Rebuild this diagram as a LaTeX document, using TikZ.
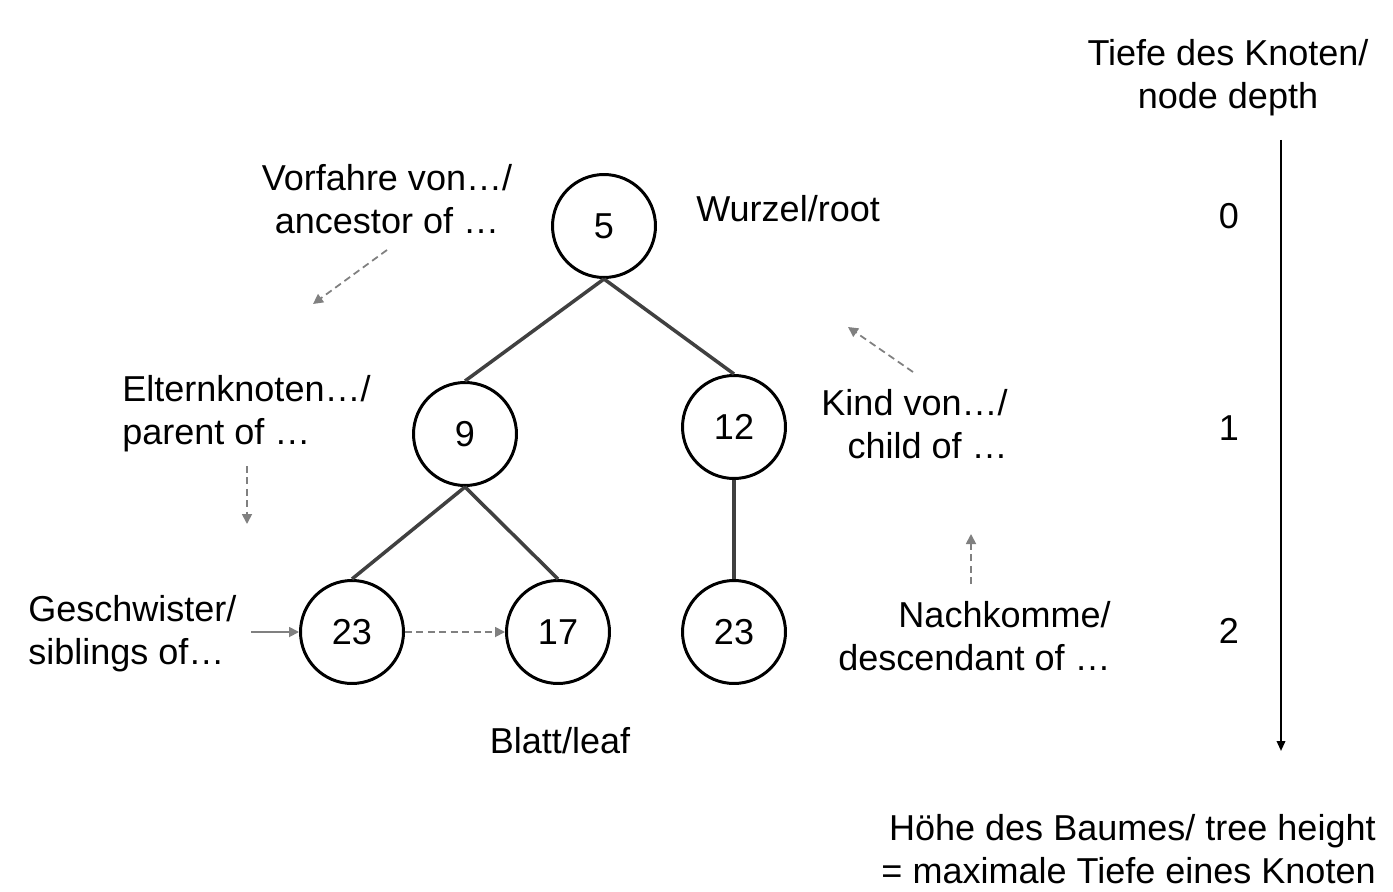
\documentclass[tikz,border=0pt]{standalone}
\usepackage{fontspec}
\setmainfont{Liberation Sans}
\usetikzlibrary{arrows.meta}
\begin{document}
\begin{tikzpicture}[x=0.02cm,y=-0.02cm,
  lbl/.style={inner sep=0pt,font=\fontsize{20.5pt}{24.5pt}\selectfont},
  tnode/.style={circle,draw=black,line width=1.7pt,minimum size=2.06cm,inner sep=0pt,font=\fontsize{20.5pt}{24.5pt}\selectfont},
  edge/.style={draw=black!75,line width=2pt},
  hint/.style={draw=black!50,line width=1pt,dashed,dash pattern=on 4pt off 2.5pt,-{Triangle[length=0.2cm,width=0.2cm]}},
  hintsolid/.style={draw=black!50,line width=1pt,-{Triangle[length=0.2cm,width=0.2cm]}}]
\useasboundingbox (0,0) rectangle (1393,892);
% tree
\node[tnode] (r) at (604,226) {5};
\node[tnode] (n9) at (465,434) {9};
\node[tnode] (n12) at (734,427) {12};
\node[tnode] (a) at (352,632) {23};
\node[tnode] (b) at (558,632) {17};
\node[tnode] (c) at (734,632) {23};
\draw[edge] (r.south) -- (n9.north);
\draw[edge] (r.south) -- (n12.north);
\draw[edge] (n9.south) -- (a.north);
\draw[edge] (n9.south) -- (b.north);
\draw[edge] (n12.south) -- (c.north);
% labels
\node[lbl,align=center] (depth) at (1228,78) {Tiefe des Knoten/\\node depth};
\node[lbl,align=center] (anc) at (387,199) {Vorfahre von…/\\ancestor of …};
\node[lbl,anchor=west] (root) at (696,209) {Wurzel/root};
\node[lbl] (d0) at (1229,216) {0};
\node[lbl] (d1) at (1229,428) {1};
\node[lbl] (d2) at (1229,631) {2};
\node[lbl,align=left,anchor=west] (par) at (122,414) {Elternknoten…/\\parent of …};
\node[lbl,align=right,anchor=east] (kid) at (1008,424) {Kind von…/\\child of …};
\node[lbl,align=left,anchor=west] (sib) at (28,634) {Geschwister/\\siblings of…};
\node[lbl,align=right,anchor=east] (desc) at (1111,636) {Nachkomme/\\descendant of …};
\node[lbl] (leaf) at (560,741) {Blatt/leaf};
\node[lbl,align=right,anchor=east] (height) at (1376,849) {Höhe des Baumes/ tree height\\= maximale Tiefe eines Knoten};
% hint arrows
\coordinate (ancS) at (387,250); \coordinate (ancE) at (313,304);
\draw[hint] (ancS) -- (ancE);
\coordinate (parS) at (247,466); \coordinate (parE) at (247,524);
\draw[hint] (parS) -- (parE);
\coordinate (sibS) at (251,632);
\draw[hintsolid] (sibS) -- (a.west);
\draw[hint] (a.east) -- (b.west);
\coordinate (kidS) at (913,372); \coordinate (kidE) at (848,327);
\draw[hint] (kidS) -- (kidE);
\coordinate (descS) at (971,584); \coordinate (descE) at (971,534);
\draw[hint] (descS) -- (descE);
% depth axis
\coordinate (axS) at (1281,140); \coordinate (axE) at (1281,751);
\draw[black,line width=1.1pt,-{Triangle[length=0.2cm,width=0.17cm]}] (axS) -- (axE);
\end{tikzpicture}
\end{document}
